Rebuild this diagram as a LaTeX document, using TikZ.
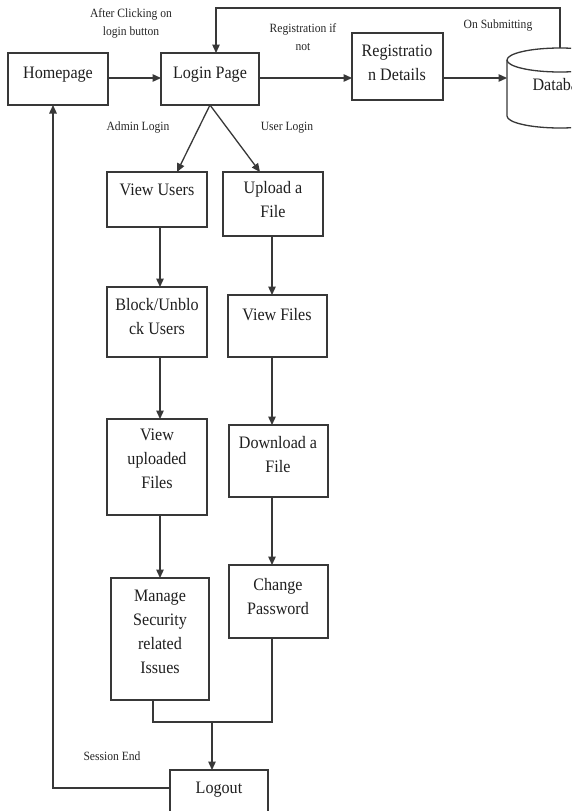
\documentclass[tikz,border=0pt]{standalone}
\usepackage{fontspec}
\setmainfont[FakeStretch=0.92]{Liberation Serif}
\usetikzlibrary{arrows.meta}
\begin{document}
\begin{tikzpicture}[x=1pt,y=-1pt,
  box/.style={draw=black!78, line width=1.3pt, fill=none, inner sep=0pt, outer sep=0pt, anchor=north west},
  btxt/.style={text=black!88, font=\fontsize{17.5}{24}\selectfont, align=center, inner sep=0pt, anchor=base},
  ltxt/.style={text=black!85, font=\fontsize{12.6}{17.5}\selectfont, align=center, inner sep=0pt, anchor=base},
  ln/.style={draw=black!78, line width=1.3pt},
  arr/.style={ln, -{Triangle[length=8.5pt,width=7.5pt]}}]
\clip (0,0) rectangle (571,811);
\fill[white] (0,0) rectangle (571,811);
% coordinates
\coordinate (row) at (0,78);
\coordinate (L) at (160,0);
\coordinate (R) at (272,0);
\coordinate (fbtop) at (216,8);
\coordinate (vuin) at (177,0);
\coordinate (upin) at (260,0);
\coordinate (msx) at (153,0);
\coordinate (merge) at (212,722);
\coordinate (serow) at (0,788);
\coordinate (sex) at (53,0);
% boxes
\node[box, minimum width=100pt, minimum height=52pt] (home) at (8,53) {};
\node[box, minimum width=98pt, minimum height=52pt] (login) at (161,53) {};
\node[box, minimum width=91pt, minimum height=67pt] (reg) at (352,33) {};
\node[box, minimum width=100pt, minimum height=55pt] (vu) at (107,172) {};
\node[box, minimum width=100pt, minimum height=64pt] (up) at (223,172) {};
\node[box, minimum width=100pt, minimum height=70pt] (bu) at (107,287) {};
\node[box, minimum width=99pt, minimum height=62pt] (vf) at (228,295) {};
\node[box, minimum width=100pt, minimum height=96pt] (vuf) at (107,419) {};
\node[box, minimum width=99pt, minimum height=72pt] (dl) at (229,425) {};
\node[box, minimum width=98pt, minimum height=122pt] (ms) at (111,578) {};
\node[box, minimum width=99pt, minimum height=73pt] (cp) at (229,565) {};
\node[box, minimum width=98pt, minimum height=60pt] (lo) at (170,770) {};
% database
\node[inner sep=0pt, outer sep=0pt, minimum width=106pt, minimum height=80pt, anchor=north west] (db) at (507,48) {};
\draw[ln] (560,60) ellipse [x radius=53, y radius=12];
\draw[ln] (507,60) -- (507,116) arc[start angle=180, end angle=0, x radius=53, y radius=12] -- (613,60);
% box texts (anchor = baseline of the last line)
\node[btxt] (t-home) at (58,78) {Homepage};
\node[btxt] (t-login) at (210,78) {Login Page};
\node[btxt] (t-reg) at (397,80) {Registratio\\n Details};
\node[btxt] (t-db) at (562,90) {Database};
\node[btxt] (t-vu) at (157,195) {View Users};
\node[btxt] (t-up) at (273,217) {Upload a\\File};
\node[btxt] (t-bu) at (157,334) {Block/Unblo\\ck Users};
\node[btxt] (t-vf) at (277,320) {View Files};
\node[btxt] (t-vuf) at (157,488) {View\\uploaded\\Files};
\node[btxt] (t-dl) at (278,472) {Download a\\File};
\node[btxt] (t-ms) at (160,673) {Manage\\Security\\related\\Issues};
\node[btxt] (t-cp) at (278,614) {Change\\Password};
\node[btxt] (t-lo) at (219,793) {Logout};
% labels
\node[ltxt] (l-after) at (131,35) {After Clicking on\\login button};
\node[ltxt] (l-reg) at (303,50) {Registration if\\not};
\node[ltxt] (l-sub) at (498,28) {On Submitting};
\node[ltxt] (l-admin) at (138,130) {Admin Login};
\node[ltxt] (l-user) at (287,130) {User Login};
\node[ltxt] (l-sess) at (112,760) {Session End};
% connectors
\draw[arr] (home.east |- row) -- (login.west |- row);
\draw[arr] (login.east |- row) -- (reg.west |- row);
\draw[arr] (reg.east |- row) -- (db.west |- row);
\draw[arr] (db.north) |- (fbtop) -- (login.north -| fbtop);
\draw[arr] (login.south) -- (vu.north -| vuin);
\draw[arr] (login.south) -- (up.north -| upin);
\draw[arr] (vu.south -| L) -- (bu.north -| L);
\draw[arr] (bu.south -| L) -- (vuf.north -| L);
\draw[arr] (vuf.south -| L) -- (ms.north -| L);
\draw[arr] (up.south -| R) -- (vf.north -| R);
\draw[arr] (vf.south -| R) -- (dl.north -| R);
\draw[arr] (dl.south -| R) -- (cp.north -| R);
\draw[ln] (ms.south -| msx) |- (merge) -| (cp.south -| R);
\draw[arr] (merge) -- (lo.north -| merge);
\draw[arr] (lo.west |- serow) -| (home.south -| sex);
\end{tikzpicture}
\end{document}
